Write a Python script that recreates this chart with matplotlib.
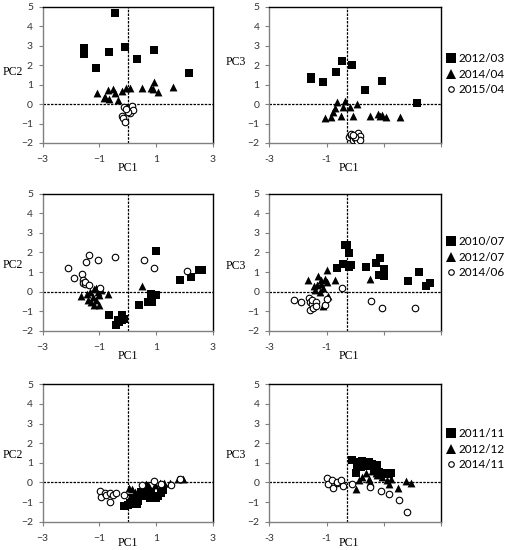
import numpy as np
import matplotlib
matplotlib.use("Agg")
import matplotlib.pyplot as plt
from matplotlib.lines import Line2D

# Reihe 1
mar12_pc1 = [-0.45, -1.53, -1.53, -0.68, -0.10, -1.11, 0.33, 0.93, 2.17]
mar12_pc2 = [4.67, 2.86, 2.55, 2.65, 2.94, 1.86, 2.29, 2.79, 1.62]
mar12_pc3 = [2.19, 1.40, 1.28, 1.64, 2.02, 1.13, 0.72, 1.18, 0.04]

apr14_pc1 = [-1.07, -0.85, -0.79, -0.71, -0.65, -0.51, -0.44, -0.36, -0.19,
             -0.07, 0.07, 0.51, 0.80, 0.88, 0.93, 1.07, 1.58]
apr14_pc2 = [0.55, 0.29, 0.35, 0.72, 0.24, 0.75, 0.58, 0.20, 0.68,
             0.80, 0.80, 0.80, 0.80, 0.76, 1.14, 0.63, 0.89]
apr14_pc3 = [-0.70, -0.65, -0.43, -0.22, 0.09, -0.62, -0.17, 0.15, -0.17,
             -0.62, 0.02, -0.62, -0.51, -0.62, -0.55, -0.65, -0.65]

apr15_pc1 = [-0.22, -0.16, -0.09, -0.13, -0.01, 0.05, 0.10, 0.16, 0.07, 0.17, -0.01, -0.06]
apr15_pc2 = [-0.62, -0.74, -0.91, -0.14, -0.18, -0.31, -0.18, -0.10, -0.48, -0.31, -0.39, -0.27]
apr15_pc3 = [-1.70, -1.60, -1.85, -1.55, -1.75, -1.80, -1.50, -1.65, -1.90, -1.85, -1.70, -1.60]

# Reihe 2
jul10_pc1 = [-0.65, -0.43, -0.36, -0.30, -0.22, -0.20, -0.15, 0.39, 0.72,
             0.86, 0.82, 1.00, 1.00, 1.85, 2.22, 2.49, 2.63]
jul10_pc2 = [-1.21, -1.67, -1.46, -1.55, -1.21, -1.45, -1.38, -0.65, -0.50,
             -0.50, -0.10, 2.06, -0.15, 0.61, 0.75, 1.09, 1.12]
jul10_pc3 = [1.22, 1.39, 2.40, 2.40, 1.97, 1.26, 1.34, 1.26, 1.48,
             1.71, 0.87, 1.14, 0.80, 0.53, 1.00, 0.27, 0.46]

jul12_pc1 = [-1.66, -1.44, -1.41, -1.35, -1.29, -1.23, -1.18, -1.18,
             -1.12, -1.12, -1.06, -1.00, -1.00, -0.94, -0.71, 0.51]
jul12_pc2 = [-0.24, -0.10, -0.44, 0.00, -0.53, -0.27, -0.65, 0.15,
             -0.44, 0.20, -0.02, -0.19, -0.65, 0.07, -0.10, 0.27]
jul12_pc3 = [0.61, 0.27, 0.07, 0.32, 0.80, -0.02, 0.58, 0.41,
             -0.75, 0.20, 0.63, 0.50, 1.09, -0.24, 0.61, 0.66]

jun14_pc1 = [-2.12, -1.90, -1.62, -1.58, -1.58, -1.52, -1.50, -1.48,
             -1.37, -1.37, -1.05, -0.98, -0.47, 0.57, 0.93, 2.08]
jun14_pc2 = [1.22, 0.68, 0.92, 0.58, 0.45, 0.37, 0.50, 1.51,
             1.85, 0.32, 1.63, 0.20, 1.77, 1.60, 1.22, 1.04]
jun14_pc3 = [-0.41, -0.50, -0.31, -0.53, -0.92, -0.61, -0.41, -0.82,
             -0.53, -0.72, -0.65, -0.36, 0.20, -0.48, -0.84, -0.84]

# Reihe 3
nov11_pc1 = [-0.12, 0.02, 0.08, 0.16, 0.25, 0.31, 0.37, 0.19, 0.43,
             0.48, 0.66, 0.77, 1.00, 1.06, 1.18, 1.24, 0.83, 0.60]
nov11_pc2 = [-1.20, -1.15, -1.06, -1.10, -0.96, -1.10, -0.96, -0.77, -0.68,
             -0.51, -0.68, -0.77, -0.77, -0.68, -0.56, -0.39, -0.51, -0.43]
nov11_pc3 = [1.15, 0.50, 0.85, 1.05, 1.10, 0.95, 1.00, 0.80, 0.85,
             1.05, 0.70, 0.90, 0.45, 0.50, 0.45, 0.50, 0.55, 0.95]

dec12_pc1 = [0.04, 0.13, 0.25, 0.37, 0.48, 0.51, 0.58, 0.63, 0.68, 0.72,
             0.74, 0.77, 0.95, 1.12, 1.20, 1.27, 1.49, 1.76, 1.96]
dec12_pc2 = [-0.30, -0.31, -0.48, -0.56, -0.31, -0.20, -0.48, -0.09, -0.15, -0.14,
             -0.25, -0.31, -0.14, -0.02, -0.10, -0.02, -0.05, 0.20, 0.15]
dec12_pc3 = [-0.31, 0.10, 0.30, 0.50, 0.20, 0.03, 0.60, 0.97, 0.80, 0.46,
             0.70, 0.40, 0.30, 0.10, -0.09, 0.20, -0.26, 0.08, -0.02]

nov14_pc1 = [-0.97, -0.95, -0.82, -0.77, -0.62, -0.62, -0.51, -0.41, -0.12,
             0.51, 0.92, 1.18, 1.53, 1.82]
nov14_pc2 = [-0.44, -0.73, -0.53, -0.65, -0.53, -0.99, -0.65, -0.55, -0.65,
             -0.14, 0.08, -0.09, -0.14, 0.20]
nov14_pc3 = [0.25, -0.09, 0.12, -0.28, -0.02, 0.04, 0.14, -0.20, -0.07,
             -0.25, -0.45, -0.60, -0.90, -1.50]

rows = [
    [("2012/03", mar12_pc1, mar12_pc2, mar12_pc3),
     ("2014/04", apr14_pc1, apr14_pc2, apr14_pc3),
     ("2015/04", apr15_pc1, apr15_pc2, apr15_pc3)],
    [("2010/07", jul10_pc1, jul10_pc2, jul10_pc3),
     ("2012/07", jul12_pc1, jul12_pc2, jul12_pc3),
     ("2014/06", jun14_pc1, jun14_pc2, jun14_pc3)],
    [("2011/11", nov11_pc1, nov11_pc2, nov11_pc3),
     ("2012/12", dec12_pc1, dec12_pc2, dec12_pc3),
     ("2014/11", nov14_pc1, nov14_pc2, nov14_pc3)],
]

# Stil
W, H = 505, 550
marker = ["s", "^", "o"]
size = [30, 32, 22]
tick_font = "Lato"
label_font = "Liberation Serif"

fig = plt.figure(figsize=(W / 100, H / 100), dpi=100)


def box(x0, y0, x1, y1):
    return [x0 / W, 1 - y1 / H, (x1 - x0) / W, (y1 - y0) / H]


row_top = [6.7, 193.6, 384.3]
row_bot = [143.0, 331.0, 521.7]
col_x = [(42.7, 213.0), (269.3, 441.0)]
ylab_y = [71.7, 265.0, 455.0]
xlab_y = [168.0, 356.0, 543.0]
pc3_y = [61.7, 266.0, 455.0]
legend_y = [53, 236, 428]

for r, groups in enumerate(rows):
    for c in range(2):
        x0, x1 = col_x[c]
        ax = fig.add_axes(box(x0, row_top[r], x1, row_bot[r]))
        for k, (lab, p1, p2, p3) in enumerate(groups):
            yv = p2 if c == 0 else p3
            if k == 2:
                ax.scatter(p1, yv, s=size[k], marker=marker[k], facecolors="white",
                           edgecolors="black", linewidths=0.8, zorder=3)
            else:
                ax.scatter(p1, yv, s=size[k], marker=marker[k], color="black",
                           linewidths=0, zorder=3)
        ax.set_xlim(-3, 3)
        ax.set_ylim(-2, 5)
        # Achsenkreuz wie in Excel (rechts leicht verschoben)
        vx = 0 if c == 0 else -0.29
        ax.axvline(vx, color="black", lw=0.9, ls=(0, (2, 1)), zorder=1)
        ax.axhline(0, color="black", lw=0.9, ls=(0, (2, 1)), zorder=1)

        ax.set_xticks([-3, -1, 1, 3])
        if c == 1:
            ax.set_xticklabels(["-3", "-1", "", ""])
        ax.set_yticks(range(-2, 6))
        ax.tick_params(axis="x", length=3, width=0.8, color="#808080", pad=6,
                       labelsize=7.5, labelcolor="#333333")
        ax.tick_params(axis="y", length=3, width=0.8, color="#808080", pad=4,
                       labelsize=7.5, labelcolor="#333333")
        for t in ax.get_xticklabels() + ax.get_yticklabels():
            t.set_fontfamily(tick_font)
        ax.spines["left"].set_color("#808080")
        ax.spines["bottom"].set_color("#808080")
        ax.spines["top"].set_color("black")
        ax.spines["right"].set_color("black")
        for s in ax.spines.values():
            s.set_linewidth(1.0)

        xc = (x0 + (x1 - x0) / 2) if c == 0 else 349
        fig.text(xc / W, 1 - xlab_y[r] / H, "PC1", ha="center", va="center",
                 fontsize=8.5, family=label_font)
        if c == 0:
            fig.text(13 / W, 1 - ylab_y[r] / H, "PC2", ha="center", va="center",
                     fontsize=8.5, family=label_font)
        else:
            fig.text(236 / W, 1 - pc3_y[r] / H, "PC3", ha="center", va="center",
                     fontsize=8.5, family=label_font)

    handles = []
    for k, (lab, p1, p2, p3) in enumerate(groups):
        if k == 2:
            h = Line2D([], [], ls="none", marker="o", markersize=4,
                       markerfacecolor="white", markeredgecolor="black",
                       markeredgewidth=0.8, label=lab)
        else:
            h = Line2D([], [], ls="none", marker=marker[k], markersize=6.5,
                       color="black", markeredgewidth=0, label=lab)
        handles.append(h)
    fig.legend(handles=handles, loc="upper left",
               bbox_to_anchor=(447 / W, 1 - legend_y[r] / H),
               frameon=False, handlelength=0.7, handletextpad=0.25,
               labelspacing=0.4, borderaxespad=0, borderpad=0,
               prop={"family": tick_font, "size": 8.5})

plt.savefig("out.png", dpi=100)
